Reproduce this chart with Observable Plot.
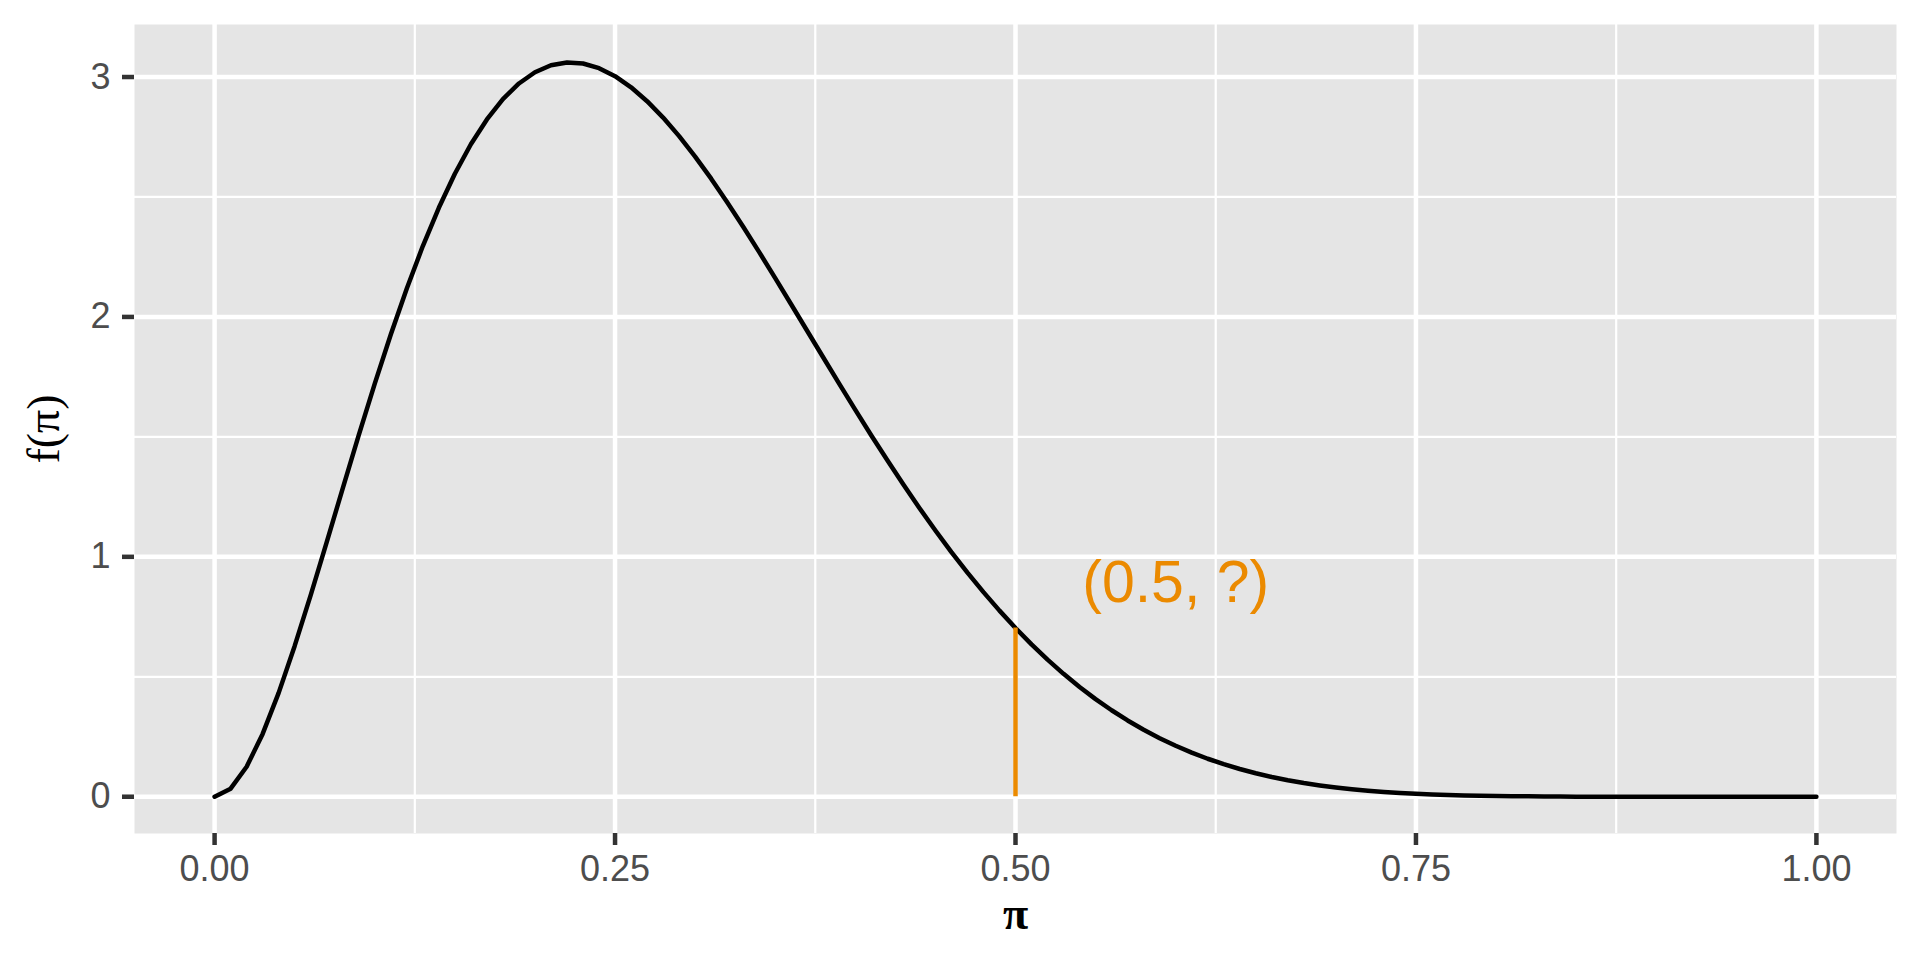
<!DOCTYPE html>
<html>
<head>
<meta charset="utf-8">
<script src="https://cdn.jsdelivr.net/npm/d3@7"></script>
<script src="https://cdn.jsdelivr.net/npm/@observablehq/plot@0.6"></script>
<style>
  html, body { margin: 0; padding: 0; background: #ffffff; }
  #chart svg { display: block; }
  g[aria-label="x-axis label"] text, g[aria-label="y-axis label"] text {
    font-family: "Liberation Serif", "DejaVu Serif", serif;
    font-size: 46px;
    fill: #000000;
  }
  g[aria-label="x-axis label"] text { font-weight: bold; }
</style>
</head>
<body>
<div id="chart"></div>
<script>
// pi values (x) and density (y)
const piValues = [0.00,0.01,0.02,0.03,0.04,0.05,0.06,0.07,0.08,0.09,0.10,0.11,0.12,0.13,0.14,0.15,0.16,0.17,0.18,0.19,0.20,0.21,0.22,0.23,0.24,0.25,0.26,0.27,0.28,0.29,0.30,0.31,0.32,0.33,0.34,0.35,0.36,0.37,0.38,0.39,0.40,0.41,0.42,0.43,0.44,0.45,0.46,0.47,0.48,0.49,0.50,0.51,0.52,0.53,0.54,0.55,0.56,0.57,0.58,0.59,0.60,0.61,0.62,0.63,0.64,0.65,0.66,0.67,0.68,0.69,0.70,0.71,0.72,0.73,0.74,0.75,0.76,0.77,0.78,0.79,0.80,0.81,0.82,0.83,0.84,0.85,0.86,0.87,0.88,0.89,0.90,0.91,0.92,0.93,0.94,0.95,0.96,0.97,0.98,0.99,1.00];
const densityValues = [0,0.0336,0.1250,0.2618,0.4328,0.6285,0.8404,1.0614,1.2853,1.5069,1.7219,1.9267,2.1186,2.2953,2.4550,2.5967,2.7196,2.8232,2.9077,2.9731,3.0199,3.0488,3.0607,3.0562,3.0368,3.0034,2.9571,2.8992,2.8309,2.7536,2.6683,2.5762,2.4784,2.3760,2.2702,2.1619,2.0519,1.9413,1.8307,1.7208,1.6124,1.5060,1.4022,1.3013,1.2037,1.1098,1.0199,0.9342,0.8528,0.7757,0.7031,0.6351,0.5715,0.5123,0.4575,0.4069,0.3605,0.3179,0.2792,0.2441,0.2123,0.1838,0.1583,0.1356,0.1156,0.0979,0.0824,0.0689,0.0572,0.0472,0.0386,0.0313,0.0252,0.0201,0.0158,0.0124,0.0095,0.0073,0.0055,0.0041,0.0030,0.0021,0.0015,0.0010,0.0007,0.0004,0.0003,0.0002,0.0001,0.0001,0,0,0,0,0,0,0,0,0,0,0];

// highlighted point and annotation
const markPi = [0.5];
const markDensity = [0.7031];
const annotationText = ["(0.5, ?)"];
const annotationX = [0.6];
const annotationY = [0.89];

// axes / grid
const xTicks = [0, 0.25, 0.5, 0.75, 1.0];
const xMinor = [0.125, 0.375, 0.625, 0.875];
const yTicks = [0, 1, 2, 3];
const yMinor = [0.5, 1.5, 2.5];

const curve = piValues.map((x, i) => ({x, y: densityValues[i]}));
const marker = markPi.map((x, i) => ({x, y: markDensity[i]}));
const notes = annotationText.map((t, i) => ({t, x: annotationX[i], y: annotationY[i]}));

const orange = "#EB8A00";
const fontSans = "'Liberation Sans', Arial, Helvetica, sans-serif";

const chart = Plot.plot({
  width: 1920,
  height: 960,
  marginLeft: 134,
  marginRight: 24,
  marginTop: 24,
  marginBottom: 127,
  style: {fontFamily: fontSans, background: "#ffffff"},
  x: {domain: [-0.05, 1.05]},
  y: {domain: [-0.15328, 3.2189]},
  marks: [
    Plot.frame({fill: "#E5E5E5", stroke: null}),
    Plot.gridX(xMinor, {stroke: "#ffffff", strokeOpacity: 1, strokeWidth: 2.2}),
    Plot.gridY(yMinor, {stroke: "#ffffff", strokeOpacity: 1, strokeWidth: 2.2}),
    Plot.gridX(xTicks, {stroke: "#ffffff", strokeOpacity: 1, strokeWidth: 4.5}),
    Plot.gridY(yTicks, {stroke: "#ffffff", strokeOpacity: 1, strokeWidth: 4.5}),
    Plot.axisX(xTicks, {
      tickFormat: d3.format(".2f"), tickSize: 12, tickPadding: 10,
      fontSize: 36, color: "#4D4D4D", stroke: "#333333", strokeWidth: 4.5,
      label: "π", labelAnchor: "center", labelArrow: "none", labelOffset: 95
    }),
    Plot.axisY(yTicks, {
      tickFormat: d3.format("d"), tickSize: 12, tickPadding: 12,
      fontSize: 36, color: "#4D4D4D", stroke: "#333333", strokeWidth: 4.5,
      label: "f(π)", labelAnchor: "center", labelArrow: "none", labelOffset: 108
    }),
    Plot.line(curve, {x: "x", y: "y", stroke: "#000000", strokeWidth: 4.5, curve: "linear"}),
    Plot.ruleX(marker, {x: "x", y1: 0, y2: "y", stroke: orange, strokeWidth: 4.5}),
    Plot.text(notes, {x: "x", y: "y", text: "t", fill: orange, fontSize: 59, textAnchor: "middle", fontFamily: fontSans})
  ]
});
document.getElementById("chart").appendChild(chart);
</script>
</body>
</html>
